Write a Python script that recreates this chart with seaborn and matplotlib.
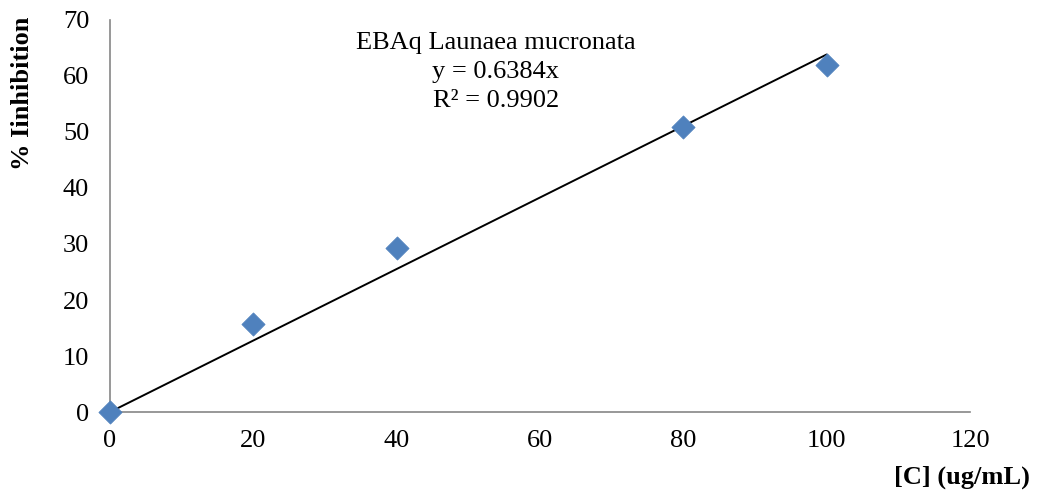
import numpy as np
import pandas as pd
import matplotlib
matplotlib.use("Agg")
import matplotlib.pyplot as plt
import seaborn as sns

# Concentration (ug/mL) and measured inhibition (%)
concentration = [0, 20, 40, 80, 100]
inhibition = [0.0, 15.7, 29.3, 50.9, 62.0]

# Linear fit through the origin
slope = 0.6384
r_squared = 0.9902
sample_name = "EBAq Launaea mucronata"

x_ticks = [0, 20, 40, 60, 80, 100, 120]
y_ticks = [0, 10, 20, 30, 40, 50, 60, 70]

sns.set_theme(style="white")
plt.rcParams["font.family"] = ["Liberation Serif", "DejaVu Serif"]
plt.rcParams["text.color"] = "black"
plt.rcParams["axes.labelcolor"] = "black"

fig = plt.figure(figsize=(10.37, 4.97), dpi=100)
ax = fig.add_axes([0.1061, 0.171, 0.8293, 0.7888])

df = pd.DataFrame({"conc": concentration, "inh": inhibition})
fit_x = np.array([min(concentration), max(concentration)], dtype=float)
fit_df = pd.DataFrame({"conc": fit_x, "inh": slope * fit_x})

sns.lineplot(data=fit_df, x="conc", y="inh", ax=ax, color="black", linewidth=1.4, zorder=2)
sns.scatterplot(data=df, x="conc", y="inh", ax=ax, marker="D", s=140,
                color="#4F81BD", edgecolor="#4F81BD", linewidth=0.5, zorder=3, clip_on=False)

ax.set_xlim(0, 120)
ax.set_ylim(0, 70)
ax.set_xticks(x_ticks)
ax.set_yticks(y_ticks)
ax.set_xticklabels([str(v) for v in x_ticks])
ax.set_yticklabels([str(v) for v in y_ticks])

for side in ("top", "right"):
    ax.spines[side].set_visible(False)
for side in ("left", "bottom"):
    ax.spines[side].set_color("#868686")
    ax.spines[side].set_linewidth(1.2)

ax.tick_params(axis="both", which="major", direction="out", length=6, width=1.2,
               color="#868686", labelsize=19, labelcolor="black")
ax.tick_params(axis="x", pad=7)
ax.tick_params(axis="y", pad=9)

ax.set_xlabel("")
ax.set_ylabel("")
fig.text(0.022, 0.813, "% Iinhibition", rotation=90, ha="center", va="center",
         fontsize=19, fontweight="bold", color="black")
fig.text(0.993, 0.04, "[C] (ug/mL)", ha="right", va="center",
         fontsize=19, fontweight="bold", color="black")

fig.text(0.478, 0.936, f"{sample_name}\ny = {slope}x\nR² = {r_squared}",
         ha="center", va="top", fontsize=19, linespacing=1.42, color="black")

fig.savefig("out.png", dpi=100, facecolor="white")
